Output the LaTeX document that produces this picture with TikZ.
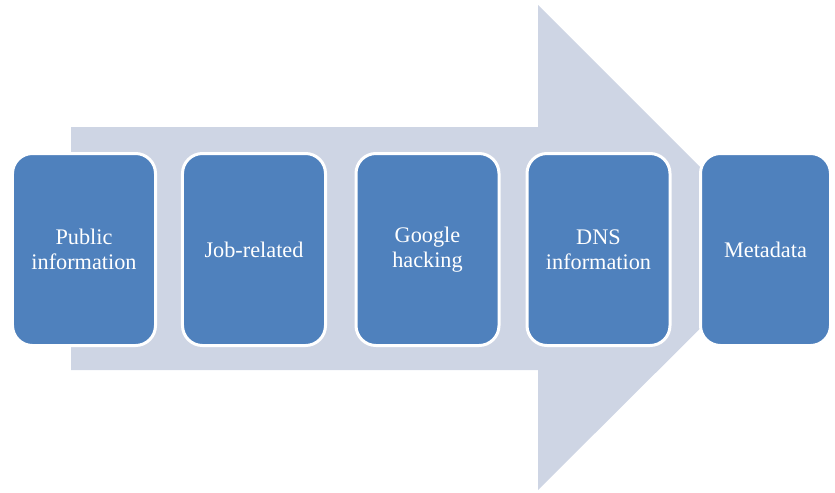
\documentclass[tikz,border=0pt]{standalone}
\usepackage{fontspec}
\setmainfont{Liberation Serif}
\usepackage{tikz}
\usetikzlibrary{arrows,calc,shapes}
\definecolor{boxblue}{RGB}{79,129,189}
\definecolor{arrowgray}{RGB}{206,213,228}
\tikzstyle{infobox}=[rectangle,draw=white,fill=boxblue,line width=0.09cm,minimum height=5.76cm,minimum width=4.29cm,rounded corners=0.6cm,text=white,align=center,font=\fontsize{19pt}{21.3pt}\selectfont]
\tikzstyle{bigarrow}=[fill=arrowgray,draw=none]

\begin{document}
\begin{tikzpicture}[x=0.03cm,y=-0.03cm]
	\useasboundingbox (0,0) rectangle (835,492);
	\def \midy {249.5};

	% big arrow behind the boxes
	\fill[bigarrow] (71,127) -- (538,127) -- (538,5) -- (781,248) -- (538,490) -- (538,370) -- (71,370) -- cycle;

	\foreach \i/\x/\txt in {1/84/{Public\\information}, 2/254/{Job-related}, 3/427.5/{Google\\hacking}, 4/598.5/{DNS\\information}} {
		\node[infobox] (b\i) at (\x, \midy) {\txt};
	};

	\node[infobox, minimum width=3.9cm] (b5) at (765.5, \midy) {Metadata};

\end{tikzpicture}
\end{document}
